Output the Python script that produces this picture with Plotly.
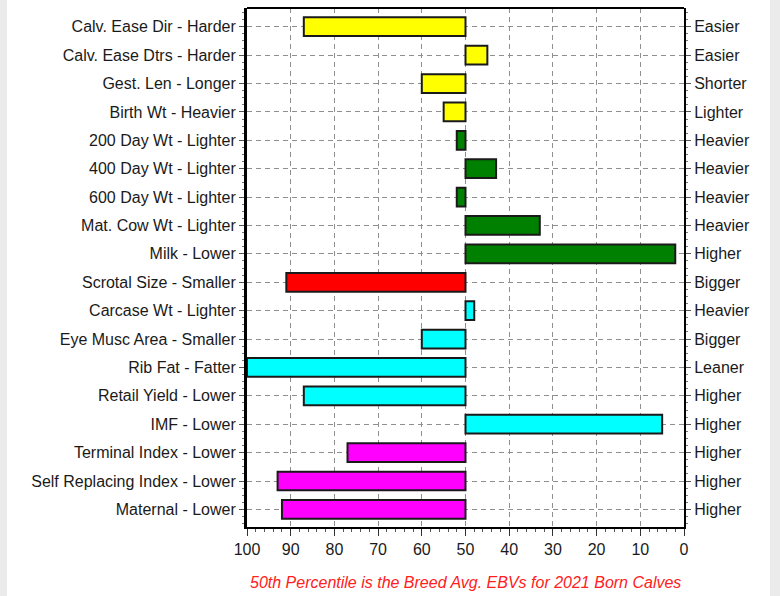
import plotly.graph_objects as go

traits = ["Calv. Ease Dir - Harder", "Calv. Ease Dtrs - Harder", "Gest. Len - Longer",
          "Birth Wt - Heavier", "200 Day Wt - Lighter", "400 Day Wt - Lighter",
          "600 Day Wt - Lighter", "Mat. Cow Wt - Lighter", "Milk - Lower",
          "Scrotal Size - Smaller", "Carcase Wt - Lighter", "Eye Musc Area - Smaller",
          "Rib Fat - Fatter", "Retail Yield - Lower", "IMF - Lower",
          "Terminal Index - Lower", "Self Replacing Index - Lower", "Maternal - Lower"]
right_labels = ["Easier", "Easier", "Shorter", "Lighter", "Heavier", "Heavier", "Heavier",
                "Heavier", "Higher", "Bigger", "Heavier", "Bigger", "Leaner", "Higher",
                "Higher", "Higher", "Higher", "Higher"]
percentiles = [87, 45, 60, 55, 52, 43, 52, 33, 2, 91, 48, 60, 100, 87, 5, 77, 93, 92]
colors = ["#FFFF00", "#FFFF00", "#FFFF00", "#FFFF00", "#008000", "#008000", "#008000",
          "#008000", "#008000", "#FF0000", "#00FFFF", "#00FFFF", "#00FFFF", "#00FFFF",
          "#00FFFF", "#FF00FF", "#FF00FF", "#FF00FF"]
breed_avg = 50
x_ticks = [100, 90, 80, 70, 60, 50, 40, 30, 20, 10, 0]
caption = "50th Percentile is the Breed Avg. EBVs for 2021 Born Calves"

pos = list(range(len(traits)))
minor_pos = [i / 4 - 0.5 for i in range(0, 4 * len(traits) + 1) if i % 2 == 1 or i % 4 == 0]
font = dict(family="Liberation Sans, Arial, sans-serif", size=16, color="#1a1a1a")
grid = dict(showgrid=True, gridcolor="#8f8f8f", griddash="5px,4px", gridwidth=1)

fig = go.Figure()
fig.add_trace(go.Bar(
    y=pos, x=[p - breed_avg for p in percentiles], base=breed_avg, orientation="h",
    marker=dict(color=colors, line=dict(color="#1a1a1a", width=2)),
    width=0.66, showlegend=False, hoverinfo="skip"))
fig.add_trace(go.Scatter(
    y=pos, x=[breed_avg] * len(pos), yaxis="y2", mode="markers",
    marker=dict(opacity=0), showlegend=False, hoverinfo="skip"))

yr = [17.62, -0.66]
fig.update_layout(
    width=780, height=596,
    margin=dict(l=247, r=96, t=8, b=69),
    paper_bgcolor="white", plot_bgcolor="white",
    font=font,
    xaxis=dict(range=[100, 0], tickvals=x_ticks, ticks="outside", ticklen=7,
               tickcolor="#333", showline=True, linecolor="black", linewidth=2,
               zeroline=False, tickfont=font, **grid,
               minor=dict(dtick=2, ticks="outside", ticklen=3, tickcolor="#555",
                          showgrid=False)),
    yaxis=dict(range=yr, tickvals=pos, ticktext=traits, ticks="outside", ticklen=5,
               tickcolor="#555", showline=True, linecolor="black", linewidth=3,
               zeroline=False, tickfont=font, **grid,
               minor=dict(tickvals=minor_pos, ticks="outside", ticklen=2,
                          tickcolor="#777", showgrid=False)),
    yaxis2=dict(range=yr, tickvals=pos, ticktext=right_labels, overlaying="y",
                side="right", ticks="outside", ticklen=5, tickcolor="#555",
                showline=True, linecolor="black", linewidth=2, showgrid=False,
                zeroline=False, tickfont=font,
                minor=dict(tickvals=minor_pos, ticks="outside", ticklen=2,
                           tickcolor="#777", showgrid=False)),
)
# top frame line
fig.add_shape(type="line", xref="paper", yref="paper", x0=0, x1=1, y0=1, y1=1,
              line=dict(color="black", width=2))
# grey window edges
fig.add_shape(type="rect", xref="paper", yref="paper", x0=-247/437, x1=-240/437,
              y0=-69/519, y1=1 + 8/519, fillcolor="#ebebeb", line=dict(width=0), layer="below")
fig.add_shape(type="rect", xref="paper", yref="paper", x0=1 + 86/437, x1=1 + 96/437,
              y0=-69/519, y1=1 + 8/519, fillcolor="#ebebeb", line=dict(width=0), layer="below")
fig.add_annotation(text="<i>" + caption + "</i>", xref="paper", yref="paper",
                   x=0.5, y=-55/519, showarrow=False, xanchor="center", yanchor="middle",
                   font=dict(family="Liberation Sans, Arial, sans-serif", size=16,
                             color="#ff2020"))

fig.write_html("out.html", config={"displayModeBar": False},
               post_script="document.body.style.margin='0';")
